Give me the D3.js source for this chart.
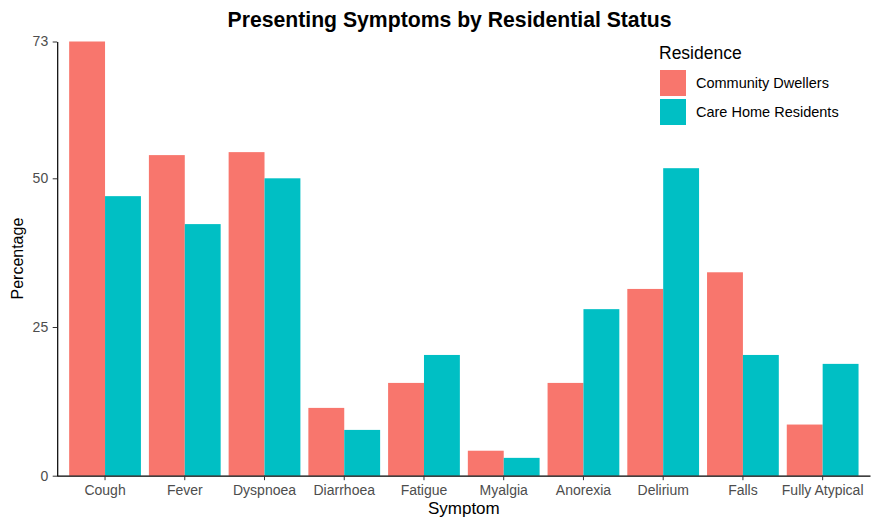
<!DOCTYPE html>
<html><head><meta charset="utf-8">
<script src="https://cdn.jsdelivr.net/npm/d3@7/dist/d3.min.js"></script>
<style>body{margin:0;background:#fff}svg{display:block;font-family:"Liberation Sans",Arial,sans-serif}</style>
</head><body>
<svg id="c" width="876" height="519"></svg>
<script>
const symptoms = ["Cough","Fever","Dyspnoea","Diarrhoea","Fatigue","Myalgia","Anorexia","Delirium","Falls","Fully Atypical"];
const seriesNames = ["Community Dwellers","Care Home Residents"];
const community = [73.0, 53.9, 54.4, 11.4, 15.6, 4.2, 15.6, 31.4, 34.2, 8.6];
const careHome = [47.0, 42.3, 50.0, 7.7, 20.3, 3.0, 28.0, 51.7, 20.3, 18.8];
const yTicks = [0, 25, 50, 73];
const colors = ["#F8766D", "#00BFC4"];

(function(){
const svg = d3.select("#c");
const pL = 57.2, pR = 870.5, pT = 41.5, pB = 475.7;
const step = (pR - pL) / 10.2;
const x = d3.scaleBand().domain(symptoms)
  .range([pL + 0.6*step - step/2, pR - 0.6*step + step/2]).paddingInner(0).paddingOuter(0);
const bw = x.bandwidth();
const inner = d3.scaleBand().domain(seriesNames).range([0.05*bw, 0.95*bw]).padding(0);
const y = d3.scaleLinear().domain([0, 73]).range([pB, pT]);

const data = symptoms.map((s,i)=>({s, vals:[community[i], careHome[i]]}));
const g = svg.append("g");
data.forEach(d=>{
  d.vals.forEach((v,j)=>{
    g.append("rect")
      .attr("x", x(d.s) + inner(seriesNames[j]))
      .attr("width", inner.bandwidth())
      .attr("y", y(v))
      .attr("height", y(0) - y(v))
      .attr("fill", colors[j]);
  });
});

const xAxis = svg.append("g").attr("transform", `translate(0,${pB})`)
  .call(d3.axisBottom(x).tickSize(4.5).tickPadding(5).tickSizeOuter(0));
xAxis.select(".domain").attr("d", `M${pL},0.5H${pR}`).attr("stroke","#000").attr("stroke-width",1.2);
xAxis.selectAll(".tick line").attr("stroke","#333");
xAxis.selectAll(".tick text").attr("fill","#4d4d4d").attr("font-size","14px");

const yAxis = svg.append("g").attr("transform", `translate(${pL},0)`)
  .call(d3.axisLeft(y).tickValues(yTicks).tickSize(4.5).tickPadding(4.5).tickSizeOuter(0));
yAxis.select(".domain").attr("stroke","#000").attr("stroke-width",1.2);
yAxis.selectAll(".tick line").attr("stroke","#333");
yAxis.selectAll(".tick text").attr("fill","#4d4d4d").attr("font-size","14px");

svg.append("text").attr("x", 449.5).attr("y", 27).attr("text-anchor","middle")
  .attr("font-weight","bold").attr("font-size","21.2px").text("Presenting Symptoms by Residential Status");
svg.append("text").attr("x", (pL+pR)/2).attr("y", 514).attr("text-anchor","middle")
  .attr("font-size","17px").text("Symptom");
svg.append("text").attr("transform", `translate(23,${(pT+pB)/2}) rotate(-90)`).attr("text-anchor","middle")
  .attr("font-size","16px").text("Percentage");

const lg = svg.append("g").attr("transform","translate(660,0)");
lg.append("text").attr("x",-1).attr("y",59).attr("font-size","17.5px").text("Residence");
seriesNames.forEach((n,j)=>{
  lg.append("rect").attr("x",0).attr("y",70+j*29).attr("width",26).attr("height",26).attr("fill",colors[j]);
  lg.append("text").attr("x",36).attr("y",83+j*29).attr("dy","0.35em").attr("font-size","14.5px").text(n);
});
})();
</script>
</body></html>
